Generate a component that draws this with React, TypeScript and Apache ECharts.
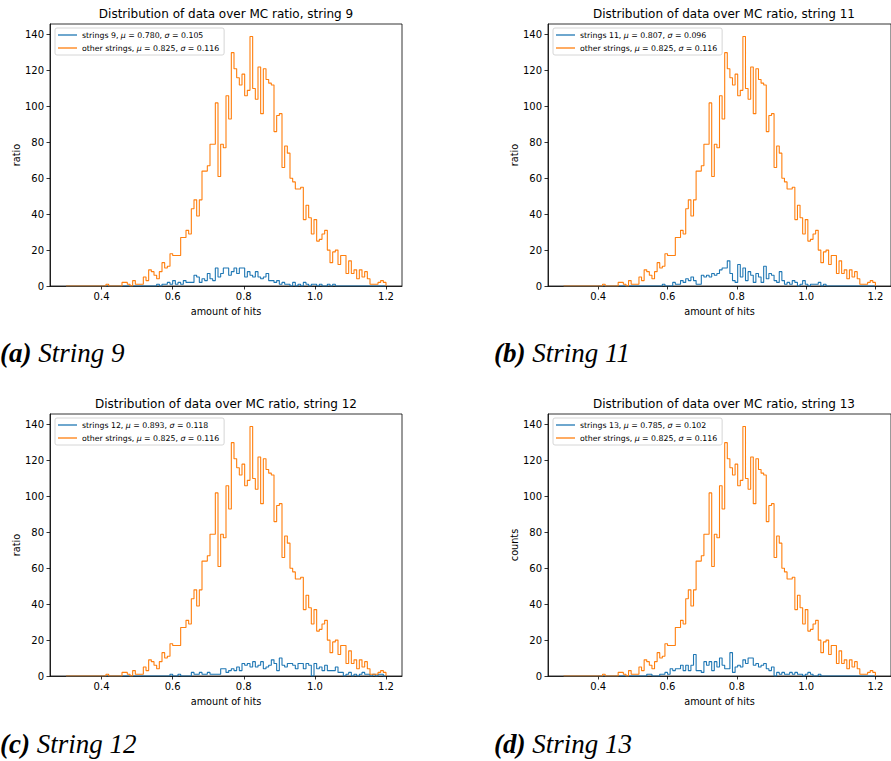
import React, { useEffect, useRef } from 'react';
import * as echarts from 'echarts';

// Histogram binning (bin edges start at 0.3, width 0.0075, 120 bins up to 1.2)
const BIN_START = 0.3;
const BIN_WIDTH = 0.0075;

const xTickValues = [0.4, 0.6, 0.8, 1.0, 1.2];
const yTickValues = [0, 20, 40, 60, 80, 100, 120, 140];

const otherName = 'other strings, μ = 0.825, σ = 0.116';

const otherCounts = [
  0, 0, 0, 0, 0, 0, 0, 0, 0, 0,
  0, 0, 0, 0, 0, 1, 0, 0, 0, 0,
  0, 2, 2, 1, 0, 3, 1, 1, 1, 5,
  3, 9, 8, 6, 4, 8, 13, 10, 11, 18,
  17, 17, 17, 27, 27, 31, 29, 43, 48, 39,
  48, 64, 64, 67, 79, 79, 102, 61, 79, 77,
  106, 93, 130, 121, 116, 112, 118, 106, 109, 139,
  110, 104, 122, 96, 121, 115, 113, 112, 86, 95,
  96, 66, 78, 74, 60, 58, 54, 54, 55, 37,
  45, 38, 29, 37, 25, 26, 29, 31, 20, 13,
  19, 20, 12, 17, 17, 7, 14, 7, 9, 4,
  9, 5, 8, 4, 1, 1, 1, 2, 3, 2,
];

const string9Counts = [
  0, 0, 0, 0, 0, 0, 0, 0, 0, 0,
  0, 0, 0, 0, 0, 0, 0, 0, 0, 0,
  0, 0, 0, 0, 0, 0, 0, 0, 0, 0,
  0, 0, 0, 0, 1, 0, 1, 1, 2, 1,
  3, 1, 2, 1, 3, 2, 2, 2, 6, 5,
  2, 4, 3, 7, 4, 3, 10, 5, 7, 10,
  10, 6, 8, 10, 7, 10, 10, 5, 8, 6,
  5, 8, 5, 4, 5, 7, 3, 3, 2, 3,
  1, 2, 1, 1, 0, 2, 0, 1, 0, 2,
  1, 0, 1, 1, 0, 1, 0, 0, 1, 0,
  1, 0, 0, 0, 0, 0, 0, 0, 0, 0,
  0, 0, 0, 0, 0, 0, 0, 0, 0, 0,
];

const string11Counts = [
  0, 0, 0, 0, 0, 0, 0, 0, 0, 0,
  0, 0, 0, 0, 0, 0, 0, 0, 0, 0,
  0, 0, 0, 0, 0, 0, 0, 0, 0, 0,
  0, 0, 0, 0, 0, 0, 0, 0, 1, 0,
  0, 0, 2, 1, 1, 3, 2, 4, 3, 5,
  3, 1, 1, 6, 5, 6, 5, 7, 6, 7,
  9, 10, 10, 14, 7, 3, 2, 12, 5, 10,
  3, 8, 6, 2, 7, 5, 2, 11, 4, 7,
  6, 3, 2, 8, 3, 1, 2, 1, 3, 2,
  0, 1, 3, 1, 0, 1, 1, 1, 2, 0,
  1, 0, 0, 0, 0, 0, 0, 0, 0, 0,
  0, 0, 0, 0, 0, 0, 0, 0, 0, 0,
];

const string12Counts = [
  0, 0, 0, 0, 0, 0, 0, 0, 0, 0,
  0, 0, 0, 0, 0, 0, 0, 0, 0, 0,
  0, 0, 0, 0, 0, 0, 0, 0, 0, 0,
  0, 0, 0, 0, 0, 0, 0, 0, 0, 1,
  0, 0, 1, 0, 0, 0, 0, 2, 1, 1,
  2, 1, 1, 2, 1, 1, 1, 1, 4, 4,
  2, 3, 4, 3, 5, 3, 7, 6, 7, 5,
  8, 5, 6, 8, 4, 5, 6, 9, 7, 3,
  10, 6, 5, 7, 7, 6, 4, 7, 7, 4,
  7, 6, 0, 7, 4, 5, 3, 6, 3, 3,
  3, 5, 2, 2, 0, 1, 2, 0, 1, 0,
  1, 2, 1, 1, 0, 1, 0, 1, 1, 0,
];

const string13Counts = [
  0, 0, 0, 0, 0, 0, 0, 0, 0, 0,
  0, 0, 0, 0, 0, 0, 0, 0, 0, 0,
  0, 0, 0, 0, 0, 0, 0, 0, 0, 0,
  0, 0, 1, 1, 0, 0, 0, 1, 1, 2,
  1, 4, 3, 4, 4, 6, 3, 6, 3, 6,
  12, 3, 3, 2, 8, 6, 8, 3, 8, 5,
  10, 6, 4, 4, 13, 2, 5, 6, 5, 9,
  7, 10, 10, 6, 7, 5, 6, 7, 4, 3,
  5, 0, 2, 1, 2, 1, 1, 2, 1, 2,
  1, 1, 0, 1, 2, 1, 0, 0, 1, 0,
  0, 0, 0, 0, 0, 0, 0, 0, 0, 0,
  0, 0, 0, 0, 0, 0, 0, 0, 0, 0,
];

const panelTitles = [
  'Distribution of data over MC ratio, string 9',
  'Distribution of data over MC ratio, string 11',
  'Distribution of data over MC ratio, string 12',
  'Distribution of data over MC ratio, string 13',
];
const panelSeriesNames = [
  'strings 9, μ = 0.780, σ = 0.105',
  'strings 11, μ = 0.807, σ = 0.096',
  'strings 12, μ = 0.893, σ = 0.118',
  'strings 13, μ = 0.785, σ = 0.102',
];
const panelCounts = [string9Counts, string11Counts, string12Counts, string13Counts];
const panelYNames = ['ratio', 'ratio', 'ratio', 'counts'];
const captionTags = ['(a)', '(b)', '(c)', '(d)'];
const captionTexts = ['String 9', 'String 11', 'String 12', 'String 13'];

// ---------- layout (pixels) ----------
const GRID_LEFTS = [50, 548, 50, 548];
const GRID_TOPS = [24, 24, 414, 414];
const GRID_W = 352;
const GRID_H = 262;
const CAPTION_POS = [
  [0, 353],
  [494, 353],
  [0, 744],
  [494, 744],
];

const BLUE = '#1f77b4';
const ORANGE = '#ff7f0e';
const FONT = 'DejaVu Sans';
const TICK_FONT = 10;
const LABEL_FONT = 9.7;
const LEGEND_FONT = 7.8;

function stepPoints(counts: number[]): [number, number][] {
  const pts: [number, number][] = [[BIN_START, 0]];
  counts.forEach((c, i) => {
    pts.push([BIN_START + i * BIN_WIDTH, c]);
  });
  const end = BIN_START + counts.length * BIN_WIDTH;
  pts.push([end, counts[counts.length - 1]]);
  pts.push([end, 0]);
  return pts;
}

function legendFormatter(name: string) {
  return name.replace('μ', '{i|μ}').replace('σ', '{i|σ}');
}

export default function App() {
  const ref = useRef<HTMLDivElement>(null);

  useEffect(() => {
    if (!ref.current) return;
    const chart = echarts.init(ref.current, undefined, { renderer: 'svg' });

    const grids: any[] = [];
    const xAxes: any[] = [];
    const yAxes: any[] = [];
    const series: any[] = [];
    const legends: any[] = [];
    const graphics: any[] = [];

    for (let i = 0; i < 4; i++) {
      const gl = GRID_LEFTS[i];
      const gt = GRID_TOPS[i];
      grids.push({
        left: gl,
        top: gt,
        width: GRID_W,
        height: GRID_H,
        show: true,
        borderColor: '#000',
        borderWidth: 0.8,
        backgroundColor: 'transparent',
        containLabel: false,
      });
      xAxes.push({
        gridIndex: i,
        type: 'value',
        min: 0.255,
        max: 1.245,
        axisLine: { show: true, lineStyle: { color: '#000', width: 0.8 } },
        axisTick: {
          show: true,
          customValues: xTickValues,
          length: 3.5,
          lineStyle: { color: '#000', width: 0.8 },
        },
        axisLabel: {
          customValues: xTickValues,
          formatter: (v: number) => v.toFixed(1),
          fontSize: TICK_FONT,
          fontFamily: FONT,
          color: '#000',
          margin: 5,
        },
        splitLine: { show: false },
        name: 'amount of hits',
        nameLocation: 'middle',
        nameGap: 20,
        nameTextStyle: { fontSize: LABEL_FONT, fontFamily: FONT, color: '#000' },
      });
      yAxes.push({
        gridIndex: i,
        type: 'value',
        min: 0,
        max: 145.95,
        axisLine: { show: true, lineStyle: { color: '#000', width: 0.8 } },
        axisTick: {
          show: true,
          customValues: yTickValues,
          length: 3.5,
          lineStyle: { color: '#000', width: 0.8 },
        },
        axisLabel: {
          customValues: yTickValues,
          fontSize: TICK_FONT,
          fontFamily: FONT,
          color: '#000',
          margin: 6,
        },
        splitLine: { show: false },
        name: panelYNames[i],
        nameLocation: 'middle',
        nameGap: 29,
        nameTextStyle: { fontSize: LABEL_FONT, fontFamily: FONT, color: '#000' },
      });
      series.push({
        type: 'line',
        name: panelSeriesNames[i],
        xAxisIndex: i,
        yAxisIndex: i,
        data: stepPoints(panelCounts[i]),
        step: 'end',
        symbol: 'none',
        silent: true,
        lineStyle: { color: BLUE, width: 1.1 },
        itemStyle: { color: BLUE },
      });
      series.push({
        type: 'line',
        name: otherName,
        xAxisIndex: i,
        yAxisIndex: i,
        data: stepPoints(otherCounts),
        step: 'end',
        symbol: 'none',
        silent: true,
        lineStyle: { color: ORANGE, width: 1.1 },
        itemStyle: { color: ORANGE },
      });
      legends.push({
        show: true,
        orient: 'vertical',
        left: gl + 5,
        top: gt + 4,
        data: [panelSeriesNames[i], otherName],
        icon: 'rect',
        itemWidth: 19,
        itemHeight: 1.3,
        itemGap: 5,
        padding: [3, 5, 3, 3],
        backgroundColor: 'rgba(255,255,255,0.8)',
        borderColor: '#cccccc',
        borderWidth: 0.8,
        borderRadius: 2,
        selectedMode: false,
        formatter: legendFormatter,
        textStyle: {
          fontSize: LEGEND_FONT,
          fontFamily: FONT,
          color: '#000',
          rich: {
            i: { fontSize: LEGEND_FONT, fontFamily: FONT, fontStyle: 'italic', color: '#000' },
          },
        },
      });
      graphics.push({
        type: 'text',
        x: gl + GRID_W / 2,
        y: gt - 10,
        style: {
          text: panelTitles[i],
          fontSize: 12,
          fontFamily: FONT,
          fill: '#000',
          textAlign: 'center',
          textVerticalAlign: 'middle',
        },
      });
      graphics.push({
        type: 'text',
        x: CAPTION_POS[i][0],
        y: CAPTION_POS[i][1],
        style: {
          text: '{b|' + captionTags[i] + '} ' + captionTexts[i],
          fontSize: 27,
          fontFamily: 'Liberation Serif',
          fontStyle: 'italic',
          fill: '#000',
          textAlign: 'left',
          textVerticalAlign: 'middle',
          rich: {
            b: {
              fontSize: 27,
              fontFamily: 'Liberation Serif',
              fontStyle: 'italic',
              fontWeight: 'bold',
              fill: '#000',
            },
          },
        },
      });
    }

    chart.setOption({
      animation: false,
      backgroundColor: '#fff',
      grid: grids,
      xAxis: xAxes,
      yAxis: yAxes,
      legend: legends,
      series,
      graphic: graphics,
    });

    return () => chart.dispose();
  }, []);

  return (
    <div
      ref={ref}
      style={{ position: 'fixed', left: 0, top: 0, width: 891, height: 761, background: '#fff' }}
    />
  );
}
